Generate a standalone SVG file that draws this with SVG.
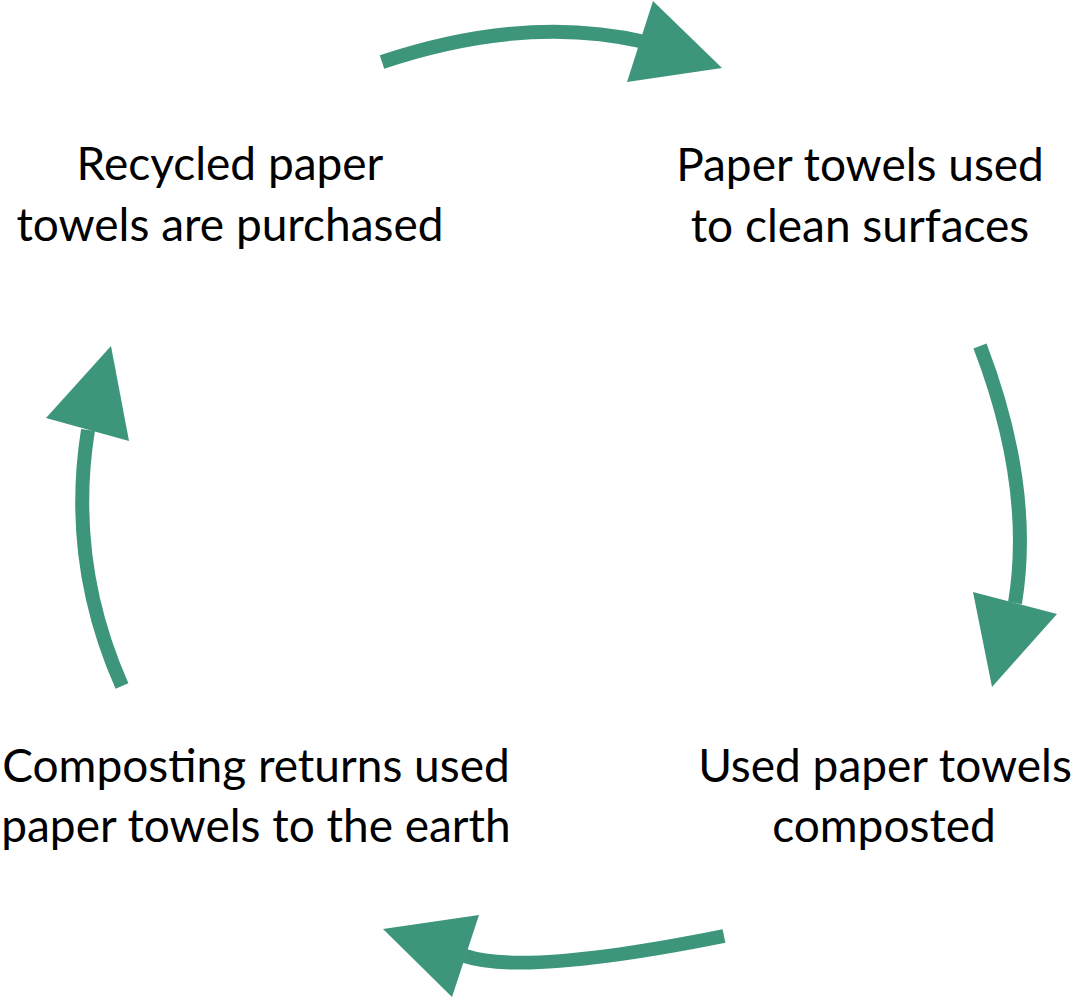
<svg xmlns="http://www.w3.org/2000/svg" width="1080" height="998" viewBox="0 0 1080 998">
<style>
.lbl{font-family:Lato,"Liberation Sans",sans-serif;font-size:46px;fill:#000;text-anchor:middle}
.shaft{fill:none;stroke:#3d967b;stroke-width:14}
.head{fill:#3d967b}
</style>
<rect width="1080" height="998" fill="#fff"/>
<g id="connectors">
<path class="shaft" d="M382,62 Q526,14 645,42"/>
<polygon class="head" points="653,1 722,68 627,82"/>
<path class="shaft" d="M980,346 Q1034,487 1015,603"/>
<polygon class="head" points="973,592 1057,614 992,687"/>
<path class="shaft" d="M724,936 Q525,976 465,956"/>
<polygon class="head" points="383,929 479,915 452,997"/>
<path class="shaft" d="M122,686 Q67,562 88,430"/>
<polygon class="head" points="111,346 129,441 46,418"/>
</g>
<g id="node-purchased"><text class="lbl" x="230" y="180">Recycled paper</text><text class="lbl" x="230" y="241">towels are purchased</text></g>
<g id="node-used"><text class="lbl" x="860" y="181">Paper towels used</text><text class="lbl" x="860" y="242">to clean surfaces</text></g>
<g id="node-composted"><text class="lbl" x="885" y="782">Used paper towels</text><text class="lbl" x="884" y="842">composted</text></g>
<g id="node-earth"><text class="lbl" x="256" y="782">Composting returns used</text><text class="lbl" x="256" y="842">paper towels to the earth</text></g>
</svg>
